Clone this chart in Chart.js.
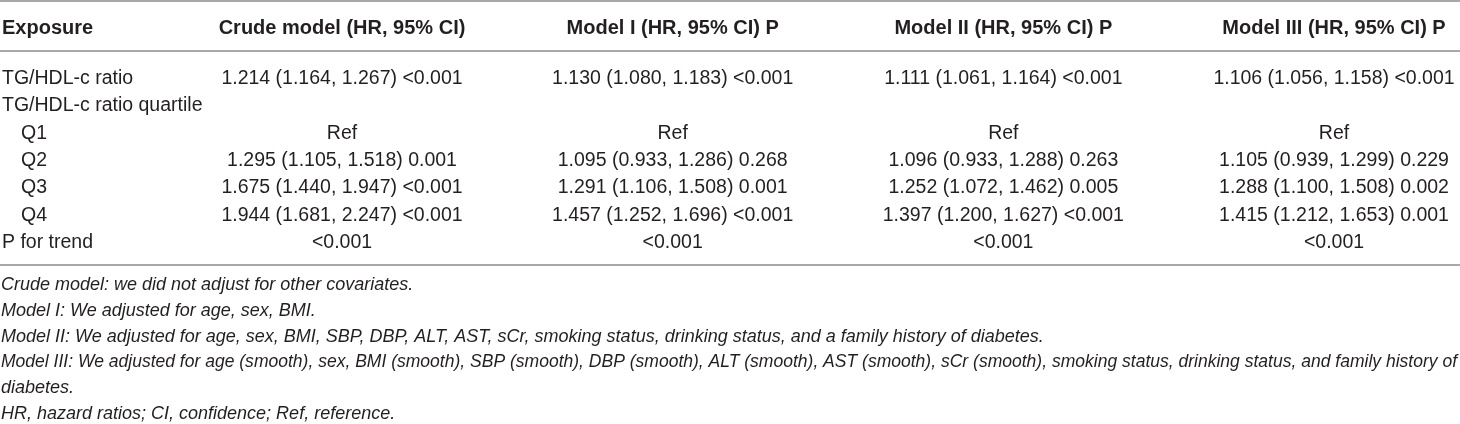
<!DOCTYPE html>
<html>
<head>
<meta charset="utf-8">
<script src="https://cdn.jsdelivr.net/npm/chart.js@4"></script>
<style>
  html, body { margin: 0; padding: 0; background: #ffffff; }
  #wrap { width: 1460px; height: 424px; }
</style>
</head>
<body>
<div id="wrap"><canvas id="c" width="1460" height="424"></canvas></div>
<script>
// ---------------- data ----------------
const stubHeader = "Exposure";
const columnHeaders = [
  "Crude model (HR, 95% CI)",
  "Model I (HR, 95% CI) P",
  "Model II (HR, 95% CI) P",
  "Model III (HR, 95% CI) P"
];
const rowLabels = [
  "TG/HDL-c ratio",
  "TG/HDL-c ratio quartile",
  "Q1",
  "Q2",
  "Q3",
  "Q4",
  "P for trend"
];
const rowIndented = [false, false, true, true, true, true, false];

const crudeModel = [
  "1.214 (1.164, 1.267) <0.001", "", "Ref",
  "1.295 (1.105, 1.518) 0.001", "1.675 (1.440, 1.947) <0.001",
  "1.944 (1.681, 2.247) <0.001", "<0.001"
];
const modelI = [
  "1.130 (1.080, 1.183) <0.001", "", "Ref",
  "1.095 (0.933, 1.286) 0.268", "1.291 (1.106, 1.508) 0.001",
  "1.457 (1.252, 1.696) <0.001", "<0.001"
];
const modelII = [
  "1.111 (1.061, 1.164) <0.001", "", "Ref",
  "1.096 (0.933, 1.288) 0.263", "1.252 (1.072, 1.462) 0.005",
  "1.397 (1.200, 1.627) <0.001", "<0.001"
];
const modelIII = [
  "1.106 (1.056, 1.158) <0.001", "", "Ref",
  "1.105 (0.939, 1.299) 0.229", "1.288 (1.100, 1.508) 0.002",
  "1.415 (1.212, 1.653) 0.001", "<0.001"
];
const footnotes = [
  "Crude model: we did not adjust for other covariates.",
  "Model I: We adjusted for age, sex, BMI.",
  "Model II: We adjusted for age, sex, BMI, SBP, DBP, ALT, AST, sCr, smoking status, drinking status, and a family history of diabetes.",
  "Model III: We adjusted for age (smooth), sex, BMI (smooth), SBP (smooth), DBP (smooth), ALT (smooth), AST (smooth), sCr (smooth), smoking status, drinking status, and family history of",
  "diabetes.",
  "HR, hazard ratios; CI, confidence; Ref, reference."
];

// ---------------- build datasets ----------------
const columns = [crudeModel, modelI, modelII, modelIII];
const datasets = columns.map((col, ci) => {
  const pts = [], texts = [];
  col.forEach((t, ri) => {
    if (t !== "") { pts.push({ x: ci, y: ri }); texts.push(t); }
  });
  return {
    label: columnHeaders[ci],
    data: pts,
    texts: texts,
    pointRadius: 0,
    pointHoverRadius: 0,
    showLine: false
  };
});
// stub column as its own dataset (x position = left edge)
datasets.push({
  label: stubHeader,
  data: rowLabels.map((t, ri) => ({ x: -1.0343, y: ri })),
  texts: rowLabels,
  stub: true,
  pointRadius: 0,
  pointHoverRadius: 0,
  showLine: false
});

const FONT = '"Liberation Sans", Arial, Helvetica, sans-serif';
const INK = '#231f20';
const RULE = '#a8a8a8';

const tablePlugin = {
  id: 'tablePlugin',
  afterDatasetsDraw(chart) {
    const ctx = chart.ctx;
    const xs = chart.scales.x, ys = chart.scales.y;
    ctx.save();
    // rules
    ctx.strokeStyle = RULE;
    ctx.lineWidth = 2;
    [-2.78, -0.955, 6.875].forEach(v => {
      const y = Math.round(ys.getPixelForValue(v));
      ctx.beginPath();
      ctx.moveTo(0, y);
      ctx.lineTo(1460, y);
      ctx.stroke();
    });
    // headers
    const hy = ys.getPixelForValue(-1.83);
    ctx.fillStyle = INK;
    ctx.font = 'bold 20px ' + FONT;
    ctx.textAlign = 'left';
    ctx.fillText(stubHeader, 2, hy + 7);
    ctx.textAlign = 'center';
    columnHeaders.forEach((h, i) => {
      ctx.fillText(h, xs.getPixelForValue(i), hy + 7);
    });
    // cells
    ctx.font = '19.5px ' + FONT;
    chart.data.datasets.forEach((ds, di) => {
      const meta = chart.getDatasetMeta(di);
      meta.data.forEach((pt, j) => {
        const t = ds.texts[j];
        if (ds.stub) {
          const ri = ds.data[j].y;
          ctx.textAlign = 'left';
          ctx.fillText(t, rowIndented[ri] ? 21 : 2, pt.y + 7);
        } else {
          ctx.textAlign = 'center';
          ctx.fillText(t, pt.x, pt.y + 7);
        }
      });
    });
    // footnotes
    ctx.font = 'italic 18px ' + FONT;
    ctx.textAlign = 'left';
    footnotes.forEach((f, k) => {
      ctx.fillText(f, 1, 290 + 25.8 * k, 1456);
    });
    ctx.restore();
  }
};

new Chart(document.getElementById('c'), {
  type: 'scatter',
  data: { datasets: datasets },
  options: {
    responsive: false,
    animation: false,
    devicePixelRatio: 1,
    layout: { padding: 0 },
    plugins: { legend: { display: false }, tooltip: { enabled: false } },
    events: [],
    scales: {
      x: { type: 'linear', min: -1.0343, max: 3.381, display: false },
      y: { type: 'linear', reverse: true, min: -2.817, max: 12.696, display: false }
    }
  },
  plugins: [tablePlugin]
});
</script>
</body>
</html>
